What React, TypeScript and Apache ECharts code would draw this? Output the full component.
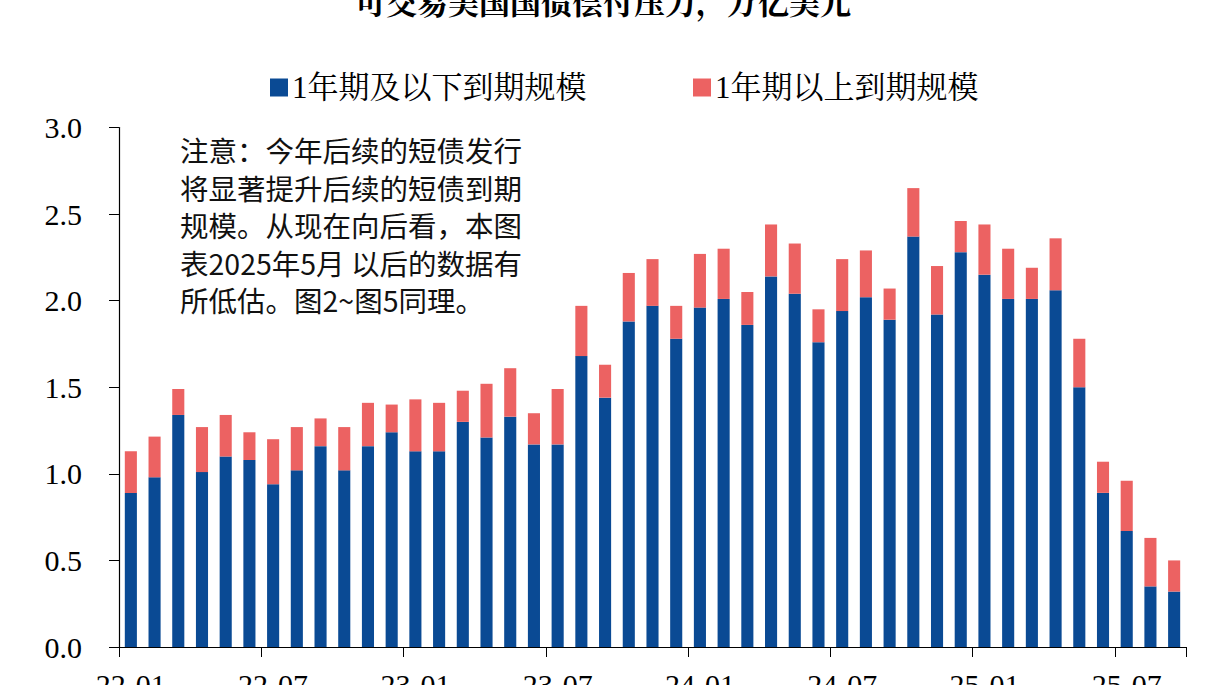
import React, { useEffect, useRef } from "react";
import * as echarts from "echarts";

const categories: string[] = [
  "22-01","22-02","22-03","22-04","22-05","22-06","22-07","22-08","22-09","22-10","22-11","22-12",
  "23-01","23-02","23-03","23-04","23-05","23-06","23-07","23-08","23-09","23-10","23-11","23-12",
  "24-01","24-02","24-03","24-04","24-05","24-06","24-07","24-08","24-09","24-10","24-11","24-12",
  "25-01","25-02","25-03","25-04","25-05","25-06","25-07","25-08","25-09",
];

const shortTerm: number[] = [
  0.89, 0.98, 1.34, 1.01, 1.10, 1.08, 0.94, 1.02, 1.16, 1.02, 1.16, 1.24,
  1.13, 1.13, 1.30, 1.21, 1.33, 1.17, 1.17, 1.68, 1.44, 1.88, 1.97, 1.78,
  1.96, 2.01, 1.86, 2.14, 2.04, 1.76, 1.94, 2.02, 1.89, 2.37, 1.92, 2.28,
  2.15, 2.01, 2.01, 2.06, 1.50, 0.89, 0.67, 0.35, 0.32,
];

const longTerm: number[] = [
  0.24, 0.235, 0.15, 0.26, 0.24, 0.16, 0.26, 0.25, 0.16, 0.25, 0.25, 0.16,
  0.30, 0.28, 0.18, 0.31, 0.28, 0.18, 0.32, 0.29, 0.19, 0.28, 0.27, 0.19,
  0.31, 0.29, 0.19, 0.30, 0.29, 0.19, 0.30, 0.27, 0.18, 0.28, 0.28, 0.18,
  0.29, 0.29, 0.18, 0.30, 0.28, 0.18, 0.29, 0.28, 0.18,
];

const seriesNames: string[] = ["1年期及以下到期规模", "1年期以上到期规模"];
const titleText = "可交易美国国债偿付压力，万亿美元";
const noteLines: string[] = [
  "注意：今年后续的短债发行",
  "将显著提升后续的短债到期",
  "规模。从现在向后看，本图",
  "表2025年5月 以后的数据有",
  "所低估。图2~图5同理。",
];

const SERIF = "'Liberation Serif', 'Noto Serif CJK SC', 'Noto Sans CJK SC', serif";
const SANS = "'Noto Sans CJK SC', 'Noto Sans', sans-serif";
const BLUE = "#0A4A94";
const RED = "#EC6262";

export default function App() {
  const ref = useRef<HTMLDivElement>(null);

  useEffect(() => {
    if (!ref.current) return;
    const chart = echarts.init(ref.current, undefined, { renderer: "svg" });
    const legendCommon = {
      icon: "rect",
      itemWidth: 18,
      itemHeight: 18,
      top: 67,
      orient: "horizontal" as const,
      textStyle: { fontFamily: SERIF, fontSize: 31, color: "#000", padding: [0, 0, 0, -1] },
    };
    chart.setOption({
      animation: false,
      backgroundColor: "#fff",
      graphic: [
        {
          type: "text",
          x: 603,
          y: 3,
          style: {
            text: titleText,
            fontFamily: SERIF,
            fontSize: 31,
            fontWeight: "bold",
            fill: "#000",
            align: "center",
            verticalAlign: "middle",
          },
        },
        {
          type: "text",
          x: 180,
          y: 131,
          style: {
            text: noteLines.join("\n"),
            fontFamily: SANS,
            fontSize: 28.5,
            lineHeight: 37.5,
            fill: "#111",
            align: "left",
            verticalAlign: "top",
          },
        },
      ],
      legend: [
        { ...legendCommon, left: 265, data: [seriesNames[0]] },
        { ...legendCommon, left: 688, data: [seriesNames[1]] },
      ],
      grid: { left: 119, right: 30, top: 127.5, bottom: 73, containLabel: false },
      xAxis: {
        type: "category",
        data: categories,
        boundaryGap: true,
        axisLine: { show: true, lineStyle: { color: "#000", width: 1.2 } },
        axisTick: { show: true, interval: 5, length: 10, lineStyle: { color: "#000" } },
        axisLabel: {
          interval: 5,
          margin: 22,
          fontFamily: SERIF,
          fontSize: 30,
          color: "#000",
        },
        splitLine: { show: false },
      },
      yAxis: {
        type: "value",
        min: 0,
        max: 3,
        interval: 0.5,
        axisLine: { show: true, lineStyle: { color: "#000", width: 1.2 } },
        axisTick: { show: true, length: 10, lineStyle: { color: "#000" } },
        axisLabel: {
          margin: 37,
          fontFamily: SERIF,
          fontSize: 30,
          color: "#000",
          formatter: (v: number) => v.toFixed(1),
        },
        splitLine: { show: false },
      },
      series: [
        {
          name: seriesNames[0],
          type: "bar",
          stack: "total",
          barWidth: "51%",
          itemStyle: { color: BLUE },
          data: shortTerm,
        },
        {
          name: seriesNames[1],
          type: "bar",
          stack: "total",
          barWidth: "51%",
          itemStyle: { color: RED },
          data: longTerm,
        },
      ],
    });
    return () => chart.dispose();
  }, []);

  return (
    <div
      ref={ref}
      style={{ position: "absolute", left: 0, top: 0, width: 1216, height: 720 }}
    />
  );
}
